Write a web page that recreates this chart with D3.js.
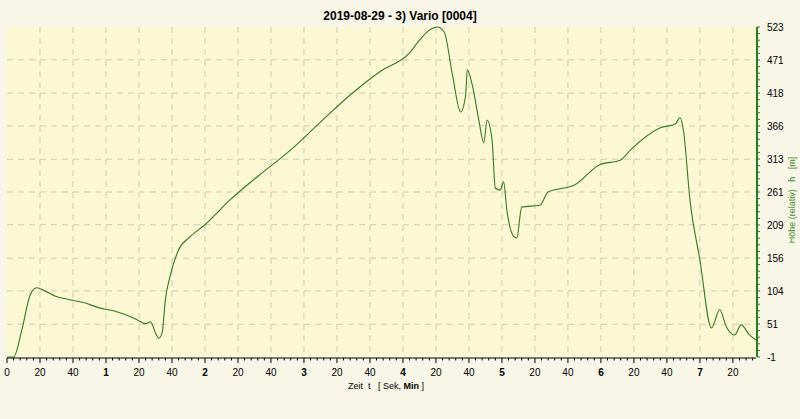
<!DOCTYPE html>
<html><head><meta charset="utf-8">
<script src="https://cdn.jsdelivr.net/npm/d3@7"></script>
<style>body{margin:0;background:#f8f6e6;font-family:Arial,"Liberation Sans",sans-serif;}</style>
</head><body><svg id="c" width="800" height="419"></svg>
<script>
// time in seconds, height in m
var times = [0,4,9,14,18,23,29,38,47,56,65,75,81,84,87,90,92,94,96,99,104,111,120,135,153,172,190,208,226,244,250,256,261,265,270,275,278,279,282,286,289,291,294,296,299,301,303,307,309,312,323,328,344,359,372,378,396,405,408,410,414,420,427,432,436,441,445,450,454];
var heights = [-1,-1,42,97,109,104,96,90,85,77,72,63,55,52,55,37,29,37,90,129,169,190,209,248,288,328,372,415,452,482,502,518,523,515,447,388,415,455,431,375,339,375,344,267,264,277,232,191,188,237,240,261,272,304,312,328,363,369,379,359,248,153,45,74,47,34,50,34,26];
var yTicks = [-1,51,104,156,209,261,313,366,418,471,523];
var title = "2019-08-29 - 3) Vario [0004]";

var svg = d3.select("#c");
var L = 7, R = 756, T = 27, B = 357;
var x = d3.scaleLinear().domain([0, 454]).range([L, R]);
var y = d3.scaleLinear().domain([-1, 523]).range([B, T]);

svg.append("rect").attr("x", L).attr("y", T).attr("width", R - L).attr("height", B - T).attr("fill", "#fbf8d3");

var xMajor = d3.range(0, 455, 20);
svg.append("g").selectAll("line").data(xMajor.filter(d => d > 0)).enter().append("line")
  .attr("x1", d => x(d)).attr("x2", d => x(d)).attr("y1", T).attr("y2", B)
  .attr("stroke", "#cfcdb0").attr("stroke-dasharray", "6,5");
svg.append("g").selectAll("line").data(yTicks.slice(1, -1)).enter().append("line")
  .attr("x1", L).attr("x2", R).attr("y1", d => y(d)).attr("y2", d => y(d))
  .attr("stroke", "#cfcdb0").attr("stroke-dasharray", "6,5");

svg.append("path").datum(times.map((t, i) => [t, heights[i]]))
  .attr("d", d3.line().x(d => x(d[0])).y(d => y(d[1])).curve(d3.curveMonotoneX))
  .attr("fill", "none").attr("stroke", "#347a26").attr("stroke-width", 1.1);

// x axis
var xa = svg.append("g").attr("transform", "translate(0," + (B + 1) + ")");
xa.append("line").attr("x1", L).attr("x2", R).attr("stroke", "#000");
xa.selectAll(".mn").data(d3.range(0, 455, 4)).enter().append("line")
  .attr("x1", d => x(d)).attr("x2", d => x(d)).attr("y2", d => d % 20 == 0 ? 5 : 2.5).attr("stroke", "#000");
xa.selectAll("text").data(xMajor).enter().append("text")
  .attr("x", d => x(d)).attr("y", 18).attr("text-anchor", "middle").attr("font-size", 10)
  .attr("font-weight", d => d % 60 == 0 && d > 0 ? "bold" : "normal")
  .text(d => d % 60 == 0 ? d / 60 : d % 60);
svg.append("text").attr("x", 348).attr("y", 389).attr("font-size", 9)
  .html('Zeit&#160;&#160;t&#160;&#160;&#160;[ Sek, <tspan font-weight="bold">Min</tspan> ]');

// y axis right
var ya = svg.append("g").attr("transform", "translate(" + (R + 1) + ",0)");
ya.append("line").attr("y1", T).attr("y2", B).attr("stroke", "#2f7a22").attr("stroke-width", 2);
ya.selectAll(".mn").data(d3.range(-1, 524, 524 / 50)).enter().append("line")
  .attr("y1", d => y(d)).attr("y2", d => y(d)).attr("x2", 3).attr("stroke", "#2f7a22");
ya.selectAll("text").data(yTicks).enter().append("text")
  .attr("x", 10).attr("y", d => y(d) + 4).attr("font-size", 10).text(d => d);
svg.append("text").attr("transform", "translate(795,200) rotate(-90)").attr("text-anchor", "middle")
  .attr("font-size", 9).attr("fill", "#3f8a2c").html("Höhe (relativ)&#160;&#160;&#160;h&#160;&#160;&#160;[m]");

svg.append("text").attr("x", 400).attr("y", 20).attr("text-anchor", "middle")
  .attr("font-size", 12).attr("font-weight", "bold").text(title);
</script></body></html>
